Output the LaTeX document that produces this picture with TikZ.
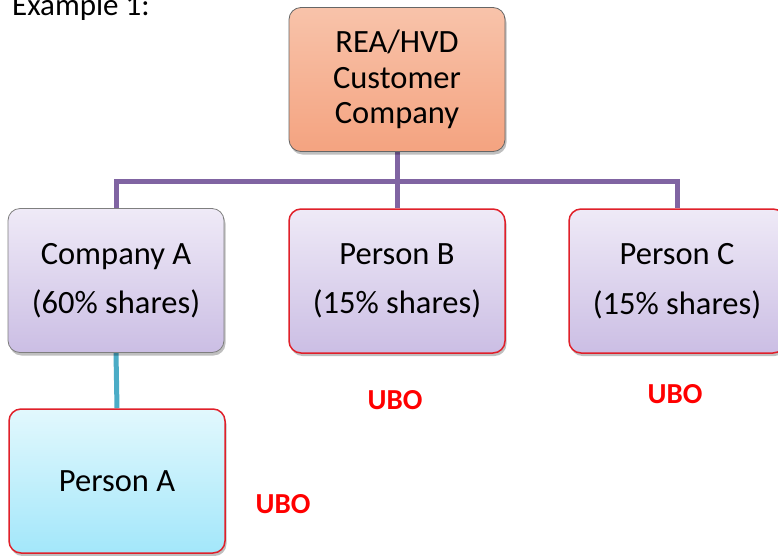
\documentclass[tikz,border=0pt]{standalone}
\usepackage{fontspec}
\setmainfont{Carlito}
\usetikzlibrary{shadows,backgrounds}
\definecolor{purpline}{HTML}{8064A2}
\definecolor{tealline}{HTML}{4BACC6}
\definecolor{salmtop}{HTML}{F8C3AA}
\definecolor{salmbot}{HTML}{F4A380}
\definecolor{lavtop}{HTML}{EFEAF7}
\definecolor{lavbot}{HTML}{CBBEE4}
\definecolor{cyantop}{HTML}{E2F8FD}
\definecolor{cyanbot}{HTML}{A3E7FA}
\definecolor{redborder}{HTML}{E0202A}
\definecolor{grayborder}{HTML}{7F7F7F}
\tikzset{
  box/.style={rounded corners=12pt, minimum width=216pt, minimum height=144pt,
    inner sep=0pt, align=center, font=\fontsize{32.5}{35.5}\selectfont,
    drop shadow={shadow xshift=1.5pt, shadow yshift=-3pt, opacity=0.25, fill=black}},
  salmonbox/.style={box, draw=grayborder!80!black, line width=0.8pt, top color=salmtop, bottom color=salmbot},
  lavbox/.style={box, draw=grayborder, line width=0.8pt, top color=lavtop, bottom color=lavbot},
  lavredbox/.style={box, draw=redborder, line width=1.5pt, top color=lavtop, bottom color=lavbot},
  cyanredbox/.style={box, draw=redborder, line width=1.5pt, top color=cyantop, bottom color=cyanbot},
  purpconn/.style={draw=purpline, line width=5pt},
  tealconn/.style={draw=tealline, line width=5pt},
  ubo/.style={text=red, font=\fontsize{29}{32}\selectfont\bfseries, inner sep=0pt},
}
\begin{document}
\begin{tikzpicture}[x=1pt,y=1pt]
\useasboundingbox (0,0) rectangle (778,-555);
\coordinate (hl) at (116,-181);
\node[salmonbox] (top) at (397,-79.5) {REA/HVD\\Customer\\Company};
\node[lavbox] (compA) at (116,-280.5) {Company A\\[14pt](60\% shares)};
\node[lavredbox] (persB) at (397,-281) {Person B\\[14pt](15\% shares)};
\node[lavredbox] (persC) at (677,-281) {Person C\\[14pt](15\% shares)};
\node[cyanredbox] (persA) at (117,-481) {Person A};
\begin{pgfonlayer}{background}
\fill[white] (0,0) rectangle (778,-555);
\draw[purpconn] (top.south) -- (top.south |- hl);
\draw[purpconn] (compA.north) -- (compA.north |- hl) -- (persC.north |- hl) -- (persC.north);
\draw[purpconn] (persB.north) -- (persB.north |- hl);
\draw[tealconn] (compA.south) -- (persA.north);
\end{pgfonlayer}
\node[anchor=base west, inner sep=0pt, font=\fontsize{31}{35}\selectfont] (ex) at (12,-15) {Example 1:};
\node[ubo] (uboB) at (395,-400) {UBO};
\node[ubo] (uboC) at (675,-394) {UBO};
\node[ubo] (uboA) at (283,-504) {UBO};
\end{tikzpicture}
\end{document}
